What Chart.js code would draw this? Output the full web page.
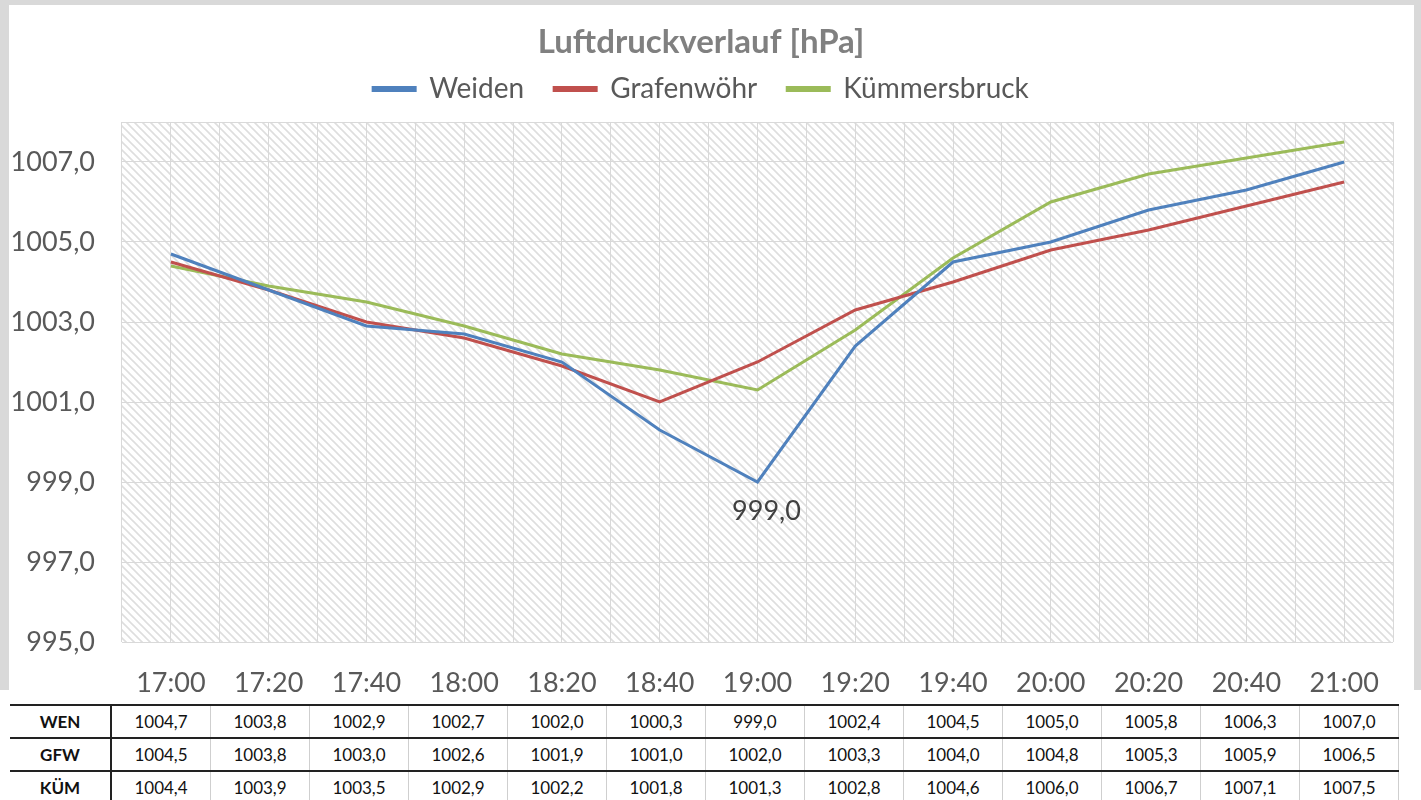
<!DOCTYPE html>
<html>
<head>
<meta charset="utf-8">
<script src="https://cdn.jsdelivr.net/npm/chart.js@4"></script>
<style>
  body { margin: 0; background: #d9d9d9; width: 1421px; height: 800px; overflow: hidden; position: relative; font-family: Lato, sans-serif; }
  #chartBox { position: absolute; left: 9px; top: 5px; width: 1405px; height: 699px; background: #fff; z-index: 2; }
  #tableBox { position: absolute; left: 0; top: 690px; width: 1421px; height: 110px; background: #fff; z-index: 1; }
  #dataTable { position: absolute; left: 10px; top: 14px; border-collapse: collapse; font-size: 17px; color: #111; }
  #dataTable td { height: 31px; padding: 0; text-align: center; border-top: 2px solid #222; border-right: 1px solid #cfcfcf; width: 98px; }
  #dataTable td.head { font-weight: bold; width: 100px; border-right: 2px solid #222; }
</style>
</head>
<body>
<div id="chartBox"><canvas id="pressureChart" width="1405" height="699"></canvas></div>
<div id="tableBox"><table id="dataTable"><tbody></tbody></table></div>

<script>
const times = ['17:00', '17:20', '17:40', '18:00', '18:20', '18:40', '19:00', '19:20', '19:40', '20:00', '20:20', '20:40', '21:00'];
const weiden = [1004.7, 1003.8, 1002.9, 1002.7, 1002.0, 1000.3, 999.0, 1002.4, 1004.5, 1005.0, 1005.8, 1006.3, 1007.0];
const grafenwoehr = [1004.5, 1003.8, 1003.0, 1002.6, 1001.9, 1001.0, 1002.0, 1003.3, 1004.0, 1004.8, 1005.3, 1005.9, 1006.5];
const kuemmersbruck = [1004.4, 1003.9, 1003.5, 1002.9, 1002.2, 1001.8, 1001.3, 1002.8, 1004.6, 1006.0, 1006.7, 1007.1, 1007.5];
const seriesNames = ['Weiden', 'Grafenwöhr', 'Kümmersbruck'];
const shortNames = ['WEN', 'GFW', 'KÜM'];
const yTicks = [995, 997, 999, 1001, 1003, 1005, 1007];
const yMin = 995;
const yMax = 1008;

const fmt = v => v.toFixed(1).replace('.', ',');

// Schraffur fuer den Plotbereich
function makeHatch() {
    const c = document.createElement('canvas');
    c.width = 8; c.height = 8;
    const g = c.getContext('2d');
    g.fillStyle = '#fff';
    g.fillRect(0, 0, 8, 8);
    g.strokeStyle = '#dedede';
    g.lineWidth = 1.6;
    g.beginPath();
    g.moveTo(-2, -2); g.lineTo(10, 10);
    g.moveTo(-2, 6); g.lineTo(2, 10);
    g.moveTo(6, -2); g.lineTo(10, 2);
    g.stroke();
    return c;
}

const hatchPlugin = {
    id: 'hatch',
    beforeDraw(chart) {
        const { ctx, chartArea: a } = chart;
        ctx.save();
        ctx.fillStyle = ctx.createPattern(makeHatch(), 'repeat');
        ctx.fillRect(a.left, a.top, a.right - a.left, a.bottom - a.top);
        ctx.restore();
    }
};

// Beschriftung am Minimum von Weiden
const minLabelPlugin = {
    id: 'minLabel',
    afterDatasetsDraw(chart) {
        const idx = weiden.indexOf(Math.min(...weiden));
        const pt = chart.getDatasetMeta(0).data[idx];
        const ctx = chart.ctx;
        ctx.save();
        ctx.font = '27px Lato';
        ctx.fillStyle = '#404040';
        ctx.textAlign = 'center';
        ctx.textBaseline = 'middle';
        ctx.fillText(fmt(weiden[idx]), pt.x + 9, pt.y + 29);
        ctx.restore();
    }
};

new Chart(document.getElementById('pressureChart'), {
    type: 'line',
    data: {
        labels: times,
        datasets: [
            { label: seriesNames[0], data: weiden, borderColor: '#4f81bd', backgroundColor: '#4f81bd' },
            { label: seriesNames[1], data: grafenwoehr, borderColor: '#c0504d', backgroundColor: '#c0504d' },
            { label: seriesNames[2], data: kuemmersbruck, borderColor: '#9bbb59', backgroundColor: '#9bbb59' }
        ]
    },
    options: {
        responsive: false,
        animation: false,
        layout: { padding: { top: 0, right: 21, bottom: 0, left: 0 } },
        elements: {
            line: { borderWidth: 3, tension: 0 },
            point: { radius: 0 }
        },
        plugins: {
            title: {
                display: true,
                text: 'Luftdruckverlauf [hPa]',
                color: '#808080',
                font: { family: 'Lato', size: 33, weight: 'bold' },
                padding: { top: 18, bottom: -17.6 }
            },
            legend: {
                labels: {
                    color: '#595959',
                    font: { family: 'Lato', size: 28 },
                    boxWidth: 42,
                    boxHeight: 3,
                    padding: 30
                }
            },
            tooltip: { enabled: false }
        },
        scales: {
            x: {
                offset: true,
                grid: { color: '#d9d9d9', drawTicks: false, offset: false },
                border: { display: false },
                ticks: { color: '#595959', font: { family: 'Lato', size: 27 }, padding: 25, maxRotation: 0 },
                afterFit: s => { s.height = 62; }
            },
            x2: {
                type: 'category',
                position: 'top',
                labels: times,
                offset: true,
                grid: { color: '#d9d9d9', drawTicks: false, offset: true },
                border: { display: false },
                ticks: { display: false },
                afterFit: s => { s.height = 9; }
            },
            y: {
                min: yMin,
                max: yMax,
                grid: { color: '#d9d9d9', drawTicks: false },
                border: { display: false },
                afterBuildTicks: s => { s.ticks = [...yTicks, yMax].map(v => ({ value: v })); },
                ticks: {
                    color: '#595959',
                    font: { family: 'Lato', size: 27 },
                    padding: 27,
                    callback: v => (v === yMax ? '' : fmt(v))
                },
                afterFit: s => { s.width = 113; }
            }
        }
    },
    plugins: [hatchPlugin, minLabelPlugin]
});

// Datentabelle unter dem Diagramm
const tbody = document.querySelector('#dataTable tbody');
[weiden, grafenwoehr, kuemmersbruck].forEach((row, i) => {
    const tr = document.createElement('tr');
    tr.innerHTML = `<td class="head">${shortNames[i]}</td>` + row.map(v => `<td>${fmt(v)}</td>`).join('');
    tbody.appendChild(tr);
});
</script>
</body>
</html>
